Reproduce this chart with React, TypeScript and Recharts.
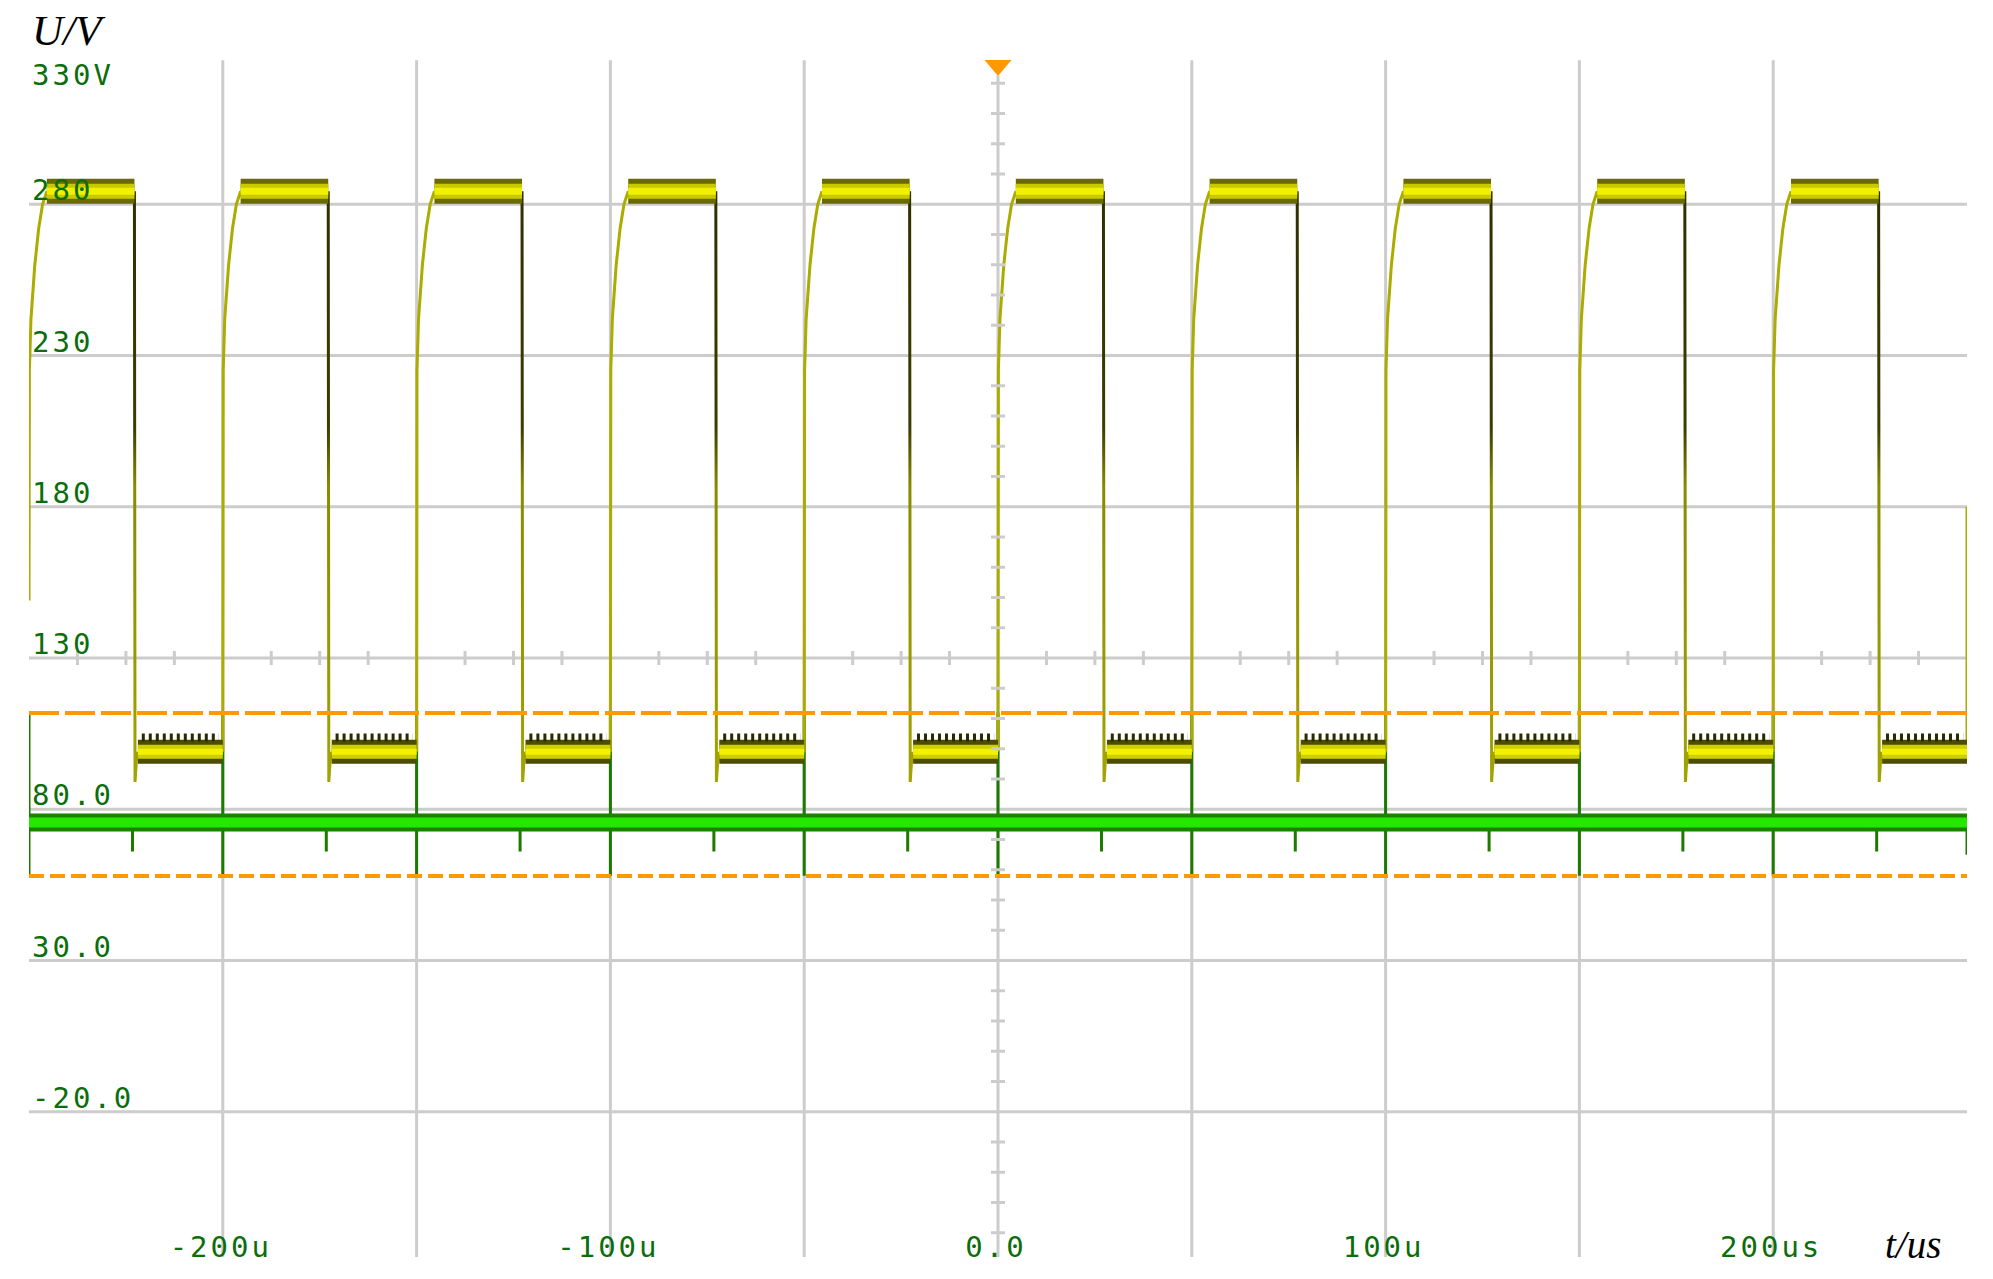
import React from "react";
import {
  ComposedChart,
  Line,
  XAxis,
  YAxis,
  ReferenceLine,
  ReferenceDot,
} from "recharts";

const W = 1993;
const H = 1279;

// time axis in microseconds
const xTicks = [-200, -100, 0, 100, 200];
const xTickLabels = ["-200u", "-100u", "0.0", "100u", "200us"];
const xGrid = [-200, -150, -100, -50, 0, 50, 100, 150, 200];

// voltage axis
const yTicks = [330, 280, 230, 180, 130, 80, 30, -20];
const yTickLabels = ["330V", "280", "230", "180", "130", "80.0", "30.0", "-20.0"];
const yGrid = [280, 230, 180, 130, 80, 30, -20];

// CH1 (yellow) square wave
const risingEdges = [-250, -200, -150, -100, -50, 0, 50, 100, 150, 200];
const fallingEdges = [-222.8, -172.8, -122.8, -72.8, -22.8, 27.2, 77.2, 127.2, 177.2, 227.2];
const riseOffsets = [0, 0.1, 0.5, 1.5, 2.5, 3.5, 4.6];
const riseValues = [99, 225, 242, 260, 272, 280, 284.3];
const fallOffsets = [0, 0.15, 0.5, 0.9];
const fallValues = [284.3, 89, 96, 99];
const highLevel = 284.3;
const lowLevel = 99;
const lowNoise = 103.7;
const startValue = 149;
const endTime = 250;
const endValue = 180;

// CH2 (green)
const greenLevel = 75.6;
const greenSpikeTop = 112;
const greenSpikeBottom = 58;
const greenDip = 66;
const greenEndDip = 65;

// trigger window (orange dashed)
const triggerHigh = 111.8;
const triggerLow = 57.9;

type Pt = { t: number; v: number | null };
const gap = (t: number): Pt => ({ t, v: null });

const riseData: Pt[] = [];
risingEdges.forEach((tr, i) => {
  riseOffsets.forEach((o, k) => {
    riseData.push({ t: tr + o, v: i === 0 && k === 0 ? startValue : riseValues[k] });
  });
  riseData.push(gap(tr + 5));
});
riseData.push({ t: endTime, v: lowLevel }, { t: endTime, v: endValue });

const fallData: Pt[] = [];
fallingEdges.forEach((tf) => {
  fallOffsets.forEach((o, k) => fallData.push({ t: tf + o, v: fallValues[k] }));
  fallData.push(gap(tf + 1));
});

const highBand: Pt[] = [];
const lowBand: Pt[] = [];
const lowComb: Pt[] = [];
risingEdges.forEach((tr, i) => {
  const tf = fallingEdges[i];
  highBand.push({ t: tr + riseOffsets[riseOffsets.length - 1], v: highLevel }, { t: tf, v: highLevel }, gap(tf));
  const next = i + 1 < risingEdges.length ? risingEdges[i + 1] : endTime;
  const from = tf + fallOffsets[fallOffsets.length - 1];
  lowBand.push({ t: from, v: lowLevel }, { t: next, v: lowLevel }, gap(next));
  lowComb.push({ t: from + 1, v: lowNoise }, { t: next - 1, v: lowNoise }, gap(next));
});

const greenBand: Pt[] = [
  { t: -250, v: greenLevel },
  { t: endTime, v: greenLevel },
];
const greenSpikes: Pt[] = [];
risingEdges.forEach((tr) => {
  greenSpikes.push({ t: tr, v: greenSpikeTop }, { t: tr, v: greenSpikeBottom }, gap(tr));
});
fallingEdges.forEach((tf) => {
  greenSpikes.push({ t: tf - 0.5, v: greenLevel }, { t: tf - 0.5, v: greenDip }, gap(tf));
});
greenSpikes.push({ t: endTime, v: greenLevel }, { t: endTime, v: greenEndDip });

// minor division marks on the centre axes
const yMinor: number[] = [];
for (let v = -60; v <= 320; v += 10) if (!yGrid.includes(v)) yMinor.push(v);
const xMinor: number[] = [];
for (let t = -237.5; t <= 237.5; t += 12.5) if (t % 50 !== 0) xMinor.push(t);

const GRID = "#cccccc";
const LABEL = "#0b6e0b";
const MONO = "'DejaVu Sans Mono', monospace";

const yLabel = (v: number, label: string) => (p: any) => (
  <text
    x={p.cx + 3}
    y={v === yTicks[0] ? p.cy + 32 : p.cy - 4}
    fill={LABEL}
    fontFamily={MONO}
    fontSize={29}
    letterSpacing={3}
    textAnchor="start"
  >
    {label}
  </text>
);

const xLabel = (label: string) => (p: any) => (
  <text
    x={p.cx - 2}
    y={p.cy - 6}
    fill={LABEL}
    fontFamily={MONO}
    fontSize={29}
    letterSpacing={3}
    textAnchor="middle"
  >
    {label}
  </text>
);

const hMark = (p: any) => (
  <line x1={p.cx - 7} x2={p.cx + 7} y1={p.cy} y2={p.cy} stroke={GRID} strokeWidth={3} />
);
const vMark = (p: any) => (
  <line x1={p.cx} x2={p.cx} y1={p.cy - 7} y2={p.cy + 7} stroke={GRID} strokeWidth={3} />
);
const triggerMark = (p: any) => (
  <polygon
    points={`${p.cx - 13.5},${p.cy + 7} ${p.cx + 13.5},${p.cy + 7} ${p.cx},${p.cy + 23}`}
    fill="#ff9900"
  />
);

const line = (key: string, data: Pt[], stroke: string, width: number, dash?: string) => (
  <Line
    key={key}
    data={data}
    dataKey="v"
    type="linear"
    stroke={stroke}
    strokeWidth={width}
    strokeDasharray={dash}
    strokeLinecap="butt"
    dot={false}
    activeDot={false}
    connectNulls={false}
    isAnimationActive={false}
  />
);

export default function App() {
  return (
    <div style={{ position: "absolute", left: 0, top: 0, width: W, height: H, background: "#fff" }}>
      <ComposedChart
        width={W}
        height={H}
        margin={{ top: 53, right: 26, bottom: 16, left: 29 }}
      >
        <defs>
          <linearGradient id="fallGrad" x1="0" y1="0" x2="0" y2="1">
            <stop offset="0%" stopColor="#2f2f00" />
            <stop offset="40%" stopColor="#3c3c00" />
            <stop offset="50%" stopColor="#8a8a00" />
            <stop offset="100%" stopColor="#a3a300" />
          </linearGradient>
        </defs>
        <XAxis
          type="number"
          dataKey="t"
          domain={[-250, 250]}
          allowDataOverflow
          ticks={xTicks}
          height={0}
          axisLine={false}
          tickLine={false}
          tick={false}
        />
        <YAxis
          type="number"
          domain={[-70, 330]}
          allowDataOverflow
          ticks={yTicks}
          width={0}
          axisLine={false}
          tickLine={false}
          tick={false}
        />

        {yGrid.map((v) => (
          <ReferenceLine key={`hg${v}`} y={v} stroke={GRID} strokeWidth={3} />
        ))}
        {xGrid.map((v) => (
          <ReferenceLine
            key={`vg${v}`}
            segment={[
              { x: v, y: v === 0 ? 322.6 : 327.6 },
              { x: v, y: -68 },
            ]}
            stroke={GRID}
            strokeWidth={3}
          />
        ))}
        {yMinor.map((v) => (
          <ReferenceDot key={`ym${v}`} x={0} y={v} r={1} shape={hMark} />
        ))}
        {xMinor.map((t) => (
          <ReferenceDot key={`xm${t}`} x={t} y={130} r={1} shape={vMark} />
        ))}

        {/* CH2 */}
        {line("gs", greenSpikes, "#1d7a00", 3)}
        {line("gb1", greenBand, "#1b8200", 18)}
        {line("gb2", greenBand, "#24e800", 10)}

        {/* CH1 */}
        {line("fall", fallData, "url(#fallGrad)", 3)}
        {line("rise", riseData, "#abab00", 3)}
        {line("hb1", highBand, "#6a6a00", 25)}
        {line("hb2", highBand, "#c9c900", 15)}
        {line("hb3", highBand, "#f0f000", 7)}
        {line("lb1", lowBand, "#4d4d00", 24)}
        {line("lb2", lowBand, "#cfcf00", 14)}
        {line("lb3", lowBand, "#f2f200", 6)}
        {line("lc", lowComb, "#2b2b00", 8, "3 4")}

        <ReferenceLine y={triggerHigh} stroke="#ff9900" strokeWidth={4} strokeDasharray="30 6" />
        <ReferenceLine y={triggerLow} stroke="#ff9900" strokeWidth={4} strokeDasharray="15 6" />
        <ReferenceDot x={0} y={330} r={1} shape={triggerMark} />

        {yTicks.map((v, i) => (
          <ReferenceDot key={`yl${v}`} x={-250} y={v} r={1} shape={yLabel(v, yTickLabels[i])} />
        ))}
        {xTicks.map((t, i) => (
          <ReferenceDot key={`xl${t}`} x={t} y={-70} r={1} shape={xLabel(xTickLabels[i])} />
        ))}
      </ComposedChart>
      <svg
        width={W}
        height={H}
        style={{ position: "absolute", left: 0, top: 0, pointerEvents: "none" }}
      >
        <text x={32} y={45} fontFamily="'Liberation Serif', serif" fontStyle="italic" fontSize={43} fill="#000">
          U/V
        </text>
        <text x={1885} y={1258} fontFamily="'Liberation Serif', serif" fontStyle="italic" fontSize={39} fill="#000">
          t/us
        </text>
      </svg>
    </div>
  );
}
